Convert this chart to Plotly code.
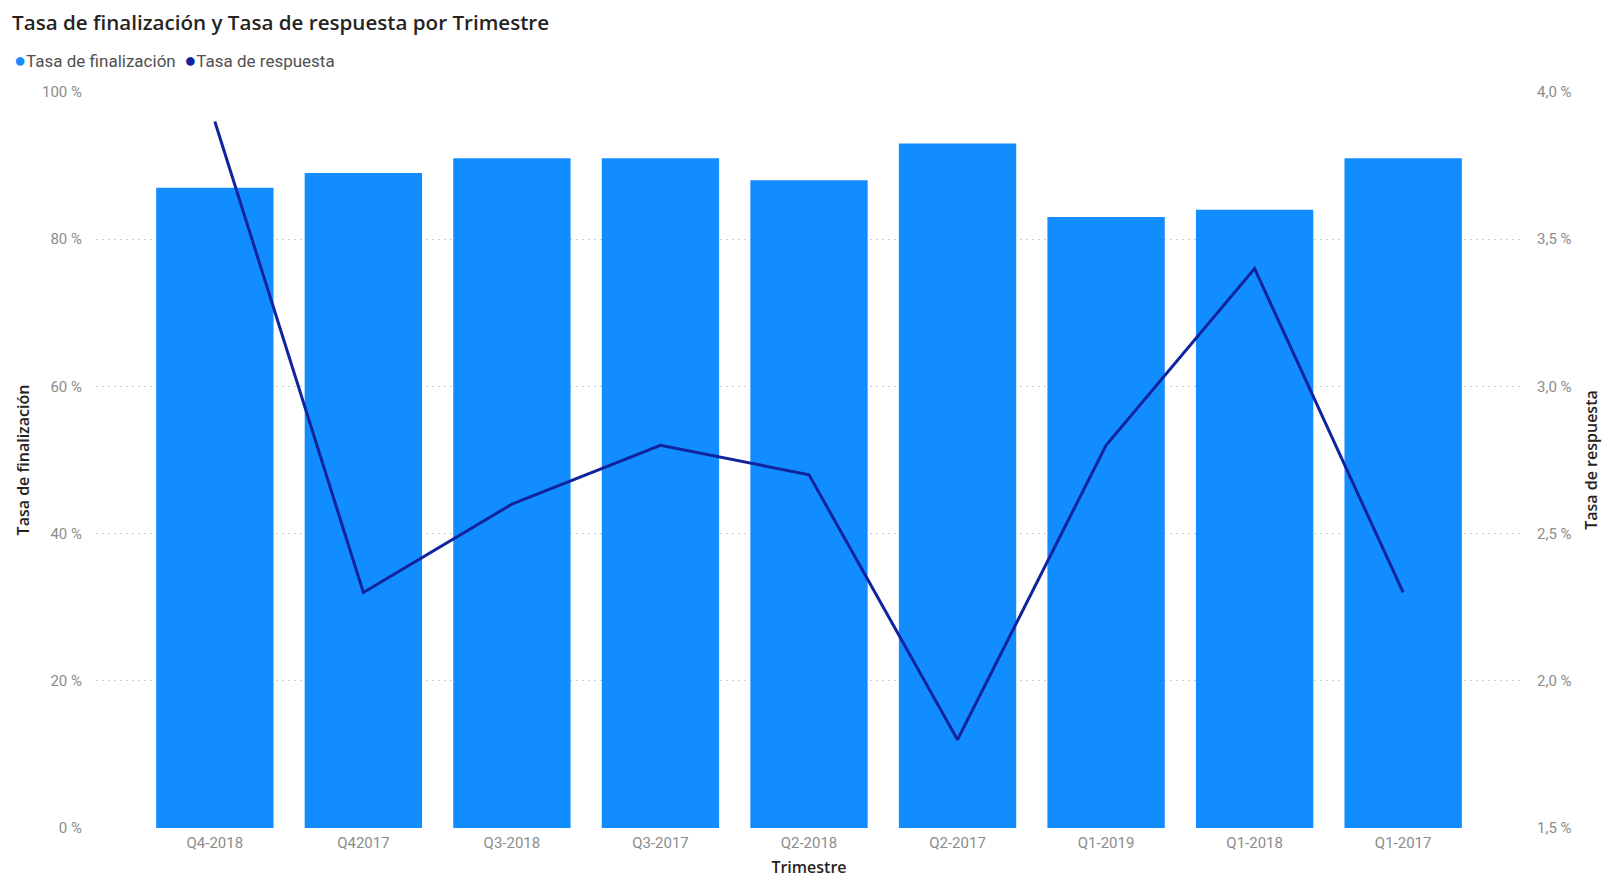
import plotly.graph_objects as go

# Trimestres y tasas
trimestres = ["Q4-2018", "Q42017", "Q3-2018", "Q3-2017", "Q2-2018",
              "Q2-2017", "Q1-2019", "Q1-2018", "Q1-2017"]
tasa_finalizacion = [87, 89, 91, 91, 88, 93, 83, 84, 91]          # %
tasa_respuesta = [3.9, 2.3, 2.6, 2.8, 2.7, 1.8, 2.8, 3.4, 2.3]     # %

series = ["Tasa de finalización", "Tasa de respuesta"]
color_fin = "#118DFF"
color_resp = "#12239E"

narrow = "Liberation Sans Narrow, Roboto, sans-serif"
tick_font = dict(family=narrow, size=15, color="#8c8c8c")
axis_title_font = dict(family="Open Sans, sans-serif", size=16, color="#252423", weight=600)

W, H = 1608, 878
M = dict(l=96, r=86, t=92, b=50)

fig = go.Figure()

fig.add_trace(go.Bar(
    x=trimestres, y=tasa_finalizacion, name=series[0],
    marker=dict(color=color_fin, line=dict(width=0)),
    showlegend=False, yaxis="y",
))
fig.add_trace(go.Scatter(
    x=trimestres, y=tasa_respuesta, name=series[1],
    mode="lines", line=dict(color=color_resp, width=3),
    showlegend=False, yaxis="y2",
))

# Compact legend row: round swatch followed by the series name
legend_text = "  ".join(
    f"<span style='color:{c}; font-size:20px'>●</span>{n}"
    for n, c in zip(series, [color_fin, color_resp])
)
plot_w = W - M["l"] - M["r"]
plot_h = H - M["t"] - M["b"]
fig.add_annotation(
    text=legend_text, xref="paper", yref="paper",
    x=(12 - M["l"]) / plot_w, y=1 + (M["t"] - 60) / plot_h,
    xanchor="left", yanchor="middle",
    showarrow=False, align="left",
    font=dict(family=narrow, size=17, color="#505050"),
)

fig.update_layout(
    width=W, height=H,
    margin=M,
    paper_bgcolor="white", plot_bgcolor="white",
    separators=", ",
    bargap=0.21,
    title=dict(
        text="Tasa de finalización y Tasa de respuesta por Trimestre",
        x=0.0075, xref="container", xanchor="left",
        y=0.974, yref="container", yanchor="middle",
        font=dict(family="Open Sans, sans-serif", size=20.6, color="#252423", weight=600),
    ),
    showlegend=False,
    xaxis=dict(
        range=[-0.8, 8.8], automargin=False,
        showgrid=False, showline=False, zeroline=False,
        tickfont=tick_font,
        ticks="outside", ticklen=1, tickcolor="rgba(0,0,0,0)",
        title=dict(text="Trimestre", font=axis_title_font),
    ),
    yaxis=dict(
        range=[0, 100], dtick=20, ticksuffix=" %",
        showgrid=True, gridcolor="#d0d0d0", griddash="2px,4px", gridwidth=1,
        zeroline=False, showline=False,
        tickfont=tick_font,
        ticks="outside", ticklen=10, tickcolor="rgba(0,0,0,0)",
        title=dict(text="Tasa de finalización", font=axis_title_font, standoff=8),
    ),
    yaxis2=dict(
        range=[1.5, 4.0], dtick=0.5, tickformat=".1f", ticksuffix=" %",
        overlaying="y", side="right", automargin=False,
        showgrid=False, zeroline=False, showline=False,
        tickfont=tick_font,
        ticks="outside", ticklen=11, tickcolor="rgba(0,0,0,0)",
        title=dict(text="Tasa de respuesta", font=axis_title_font),
    ),
)

fig.write_html("out.html")
